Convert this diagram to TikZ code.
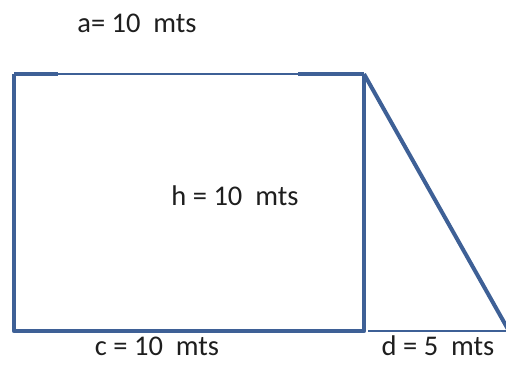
\documentclass[tikz,border=0pt]{standalone}
\usepackage{fontspec}
\setmainfont{Carlito}
\definecolor{edgeblue}{RGB}{62,96,150}
\definecolor{labelgray}{RGB}{30,30,30}
\begin{document}
\begin{tikzpicture}[x=1pt,y=-1pt,line join=round,
    thickside/.style={draw=edgeblue,line width=4.5pt},
    thinside/.style={draw=edgeblue,line width=2pt},
    measure/.style={text=labelgray,font=\fontsize{28.5}{32}\selectfont}]
	\useasboundingbox (0,0) rectangle (506,379);
	% corners of the rectangle and the triangle
	\coordinate (topleft) at (14,74);
	\coordinate (topright) at (364,74);
	\coordinate (bottomleft) at (14,331);
	\coordinate (bottomright) at (364,331);
	\coordinate (bottomgap) at (368,331);
	\coordinate (tip) at (509,331);
	\coordinate (topthickend) at (58,74);
	\coordinate (topthickstart) at (298,74);
	% rectangle
	\draw[thinside] (topleft) -- (topright);
	\draw[thickside] (topleft) -- (topthickend);
	\draw[thickside] (topthickstart) -- (topright);
	\draw[thickside] (topleft) -- (bottomleft) -- (bottomright) -- (topright);
	% triangle
	\draw[thickside,line width=4pt] (topright) -- (tip);
	\draw[thinside] (bottomgap) -- (tip);
	% labels
	\node[measure] (lengtha) at (137,23) {a= 10\ \ mts};
	\node[measure] (heighth) at (235,196) {h = 10\ \ mts};
	\node[measure] (lengthc) at (157,346) {c = 10\ \ mts};
	\node[measure] (lengthd) at (438,346) {d = 5\ \ mts};
\end{tikzpicture}
\end{document}
